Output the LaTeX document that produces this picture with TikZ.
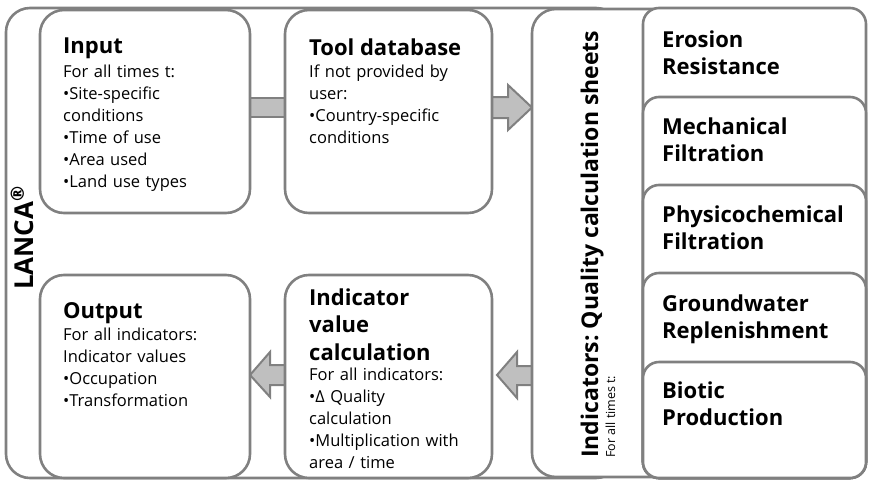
\documentclass[tikz,border=0pt]{standalone}
\usepackage{fontspec}
\setmainfont{Open Sans}
\usetikzlibrary{calc}
\definecolor{edge}{HTML}{808080}
\definecolor{arrowfill}{HTML}{BFBFBF}
\frenchspacing
\tikzset{
  box/.style={draw=edge, line width=2.6pt, fill=white, rounded corners=24pt},
  sidebox/.style={draw=edge, line width=2.6pt, fill=white, rounded corners=16pt},
  blockarrow/.style={draw=edge, line width=2pt, fill=arrowfill, line join=miter},
  ttl/.style={anchor=base west, inner sep=0pt, font=\bfseries\fontsize{22}{27}\selectfont},
  ttlm/.style={anchor=base west, inner sep=0pt, align=left, text width=205pt, font=\bfseries\fontsize{22}{27.5}\selectfont},
  body/.style={anchor=base west, inner sep=0pt, align=left, text width=200pt, font=\fontsize{16.5}{22}\selectfont},
}
\begin{document}
\begin{tikzpicture}[x=1pt,y=-1pt]
\useasboundingbox (0,0) rectangle (869,482);
% outer LANCA frame
\draw[box] (6,8) rectangle (620,478);
\node[anchor=base, rotate=90, inner sep=0pt, font=\bfseries\fontsize{26}{30}\selectfont] (lanca) at (33,238) {LANCA\textsuperscript{\textregistered}};
% block arrows
\coordinate (a1s) at (245,98);
\draw[blockarrow] (a1s) rectangle (290,117);
\draw[blockarrow] (485,97) -- (508,97) -- (508,85) -- (532,107.5) -- (508,130) -- (508,118) -- (485,118) -- cycle;
\draw[blockarrow] (540,366) -- (517,366) -- (517,352) -- (497,375) -- (517,398) -- (517,385) -- (540,385) -- cycle;
\draw[blockarrow] (292,365) -- (270,365) -- (270,352) -- (250,375) -- (270,397) -- (270,385) -- (292,385) -- cycle;
% main boxes
\draw[box] (40,10) rectangle (250,213) node[pos=0] (input) {};
\draw[box] (285,10) rectangle (492,213) node[pos=0] (tool) {};
\draw[box] (40,275) rectangle (250,478) node[pos=0] (output) {};
\draw[box] (285,275) rectangle (492,478) node[pos=0] (indval) {};
\node[ttl] (inputT) at (63,53) {Input};
\node[body] (inputB) at (63,77) {For all times t:\\ •Site-specific\\ conditions\\ •Time of use\\ •Area used\\ •Land use types};
\node[ttl] (toolT) at (309,55) {Tool database};
\node[body] (toolB) at (309,77) {If not provided by\\ user:\\ •Country-specific\\ conditions};
\node[ttl] (outT) at (63,318) {Output};
\node[body] (outB) at (63,340) {For all indicators:\\ Indicator values\\ •Occupation\\ •Transformation};
\node[ttlm] (indT) at (309,305) {Indicator\\ value\\ calculation};
\node[body] (indB) at (309,380) {For all indicators:\\ •Δ Quality\\ calculation\\ •Multiplication with\\ area / time};
% indicators box
\draw[box] (532,9) rectangle (720,477) node[pos=0] (indic) {};
\node[anchor=base west, rotate=90, inner sep=0pt, font=\bfseries\fontsize{23}{27}\selectfont] (indicT) at (598,458) {Indicators: Quality calculation sheets};
\node[anchor=base west, rotate=90, inner sep=0pt, font=\fontsize{12.5}{15}\selectfont] (indicB) at (615,458) {For all times t:};
% side boxes
\draw[sidebox] (643,8) rectangle (866,478) node[pos=0] (ero) {};
\node[ttlm] (eroT) at (662,47) {Erosion\\ Resistance};
\draw[sidebox] (643,97) rectangle (866,478) node[pos=0] (mech) {};
\node[ttlm] (mechT) at (662,134) {Mechanical\\ Filtration};
\draw[sidebox] (643,185) rectangle (866,478) node[pos=0] (phys) {};
\node[ttlm] (physT) at (662,222) {Physicochemical\\ Filtration};
\draw[sidebox] (643,273) rectangle (866,478) node[pos=0] (ground) {};
\node[ttlm] (groundT) at (662,311) {Groundwater\\ Replenishment};
\draw[sidebox] (643,362) rectangle (866,478) node[pos=0] (bio) {};
\node[ttlm] (bioT) at (662,398) {Biotic\\ Production};
\end{tikzpicture}
\end{document}
